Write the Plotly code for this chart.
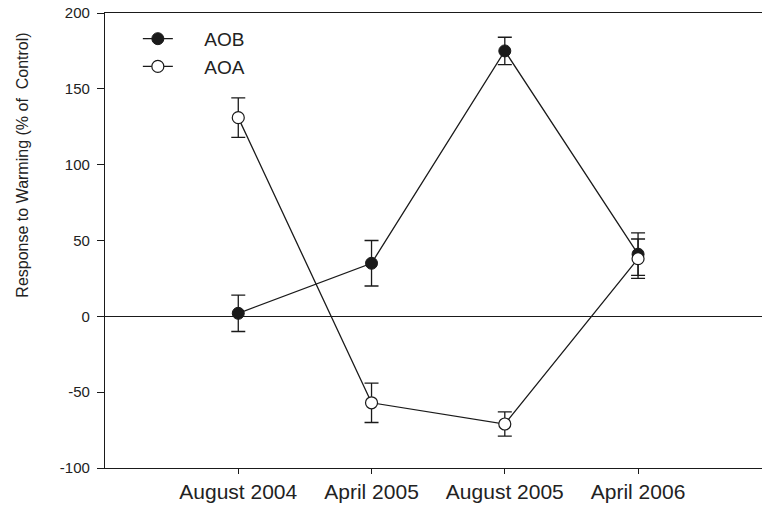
import plotly.graph_objects as go

categories = ["August 2004", "April 2005", "August 2005", "April 2006"]
aob_values = [2, 35, 175, 41]
aob_errors = [12, 15, 9, 14]
aoa_values = [131, -57, -71, 38]
aoa_errors = [13, 13, 8, 13]
y_ticks = [-100, -50, 0, 50, 100, 150, 200]
y_ticktext = ["-100", "-50", "0", "50", "100", "150", "200"]
y_title = "Response to Warming (% of  Control)"

FONT = "Liberation Sans, Arial, sans-serif"
fig = go.Figure()

fig.add_trace(go.Scatter(
    x=categories, y=aob_values, name="\u00a0\u00a0\u00a0\u00a0\u00a0AOB", mode="lines+markers",
    line=dict(color="#1a1a1a", width=1.3),
    marker=dict(symbol="circle", size=12, color="#1a1a1a", line=dict(color="#1a1a1a", width=1)),
    error_y=dict(type="data", array=aob_errors, visible=True, color="#1a1a1a", thickness=1.3, width=7),
))
fig.add_trace(go.Scatter(
    x=categories, y=aoa_values, name="\u00a0\u00a0\u00a0\u00a0\u00a0AOA", mode="lines+markers",
    line=dict(color="#1a1a1a", width=1.3),
    marker=dict(symbol="circle", size=12, color="white", line=dict(color="#1a1a1a", width=1.2)),
    error_y=dict(type="data", array=aoa_errors, visible=True, color="#1a1a1a", thickness=1.3, width=7),
))

fig.add_annotation(
    text=y_title, textangle=-90, xref="paper", yref="paper",
    x=-0.126, y=0.665, xanchor="center", yanchor="middle", showarrow=False,
    font=dict(size=16, family=FONT, color="#222222"),
)

fig.update_layout(
    width=762, height=517,
    margin=dict(l=105, r=0, t=13, b=49),
    paper_bgcolor="white", plot_bgcolor="white",
    font=dict(family=FONT, color="#222222"),
    showlegend=True,
    legend=dict(x=0.05, y=0.985, xanchor="left", yanchor="top",
                bgcolor="rgba(0,0,0,0)", font=dict(size=19, family=FONT, color="#222222"),
                tracegroupgap=0),
    xaxis=dict(
        type="category", range=[-1, 3.93],
        showline=True, linecolor="#1a1a1a", linewidth=1.3, mirror=True,
        ticks="outside", ticklen=5, tickcolor="#1a1a1a", tickwidth=1.3,
        showgrid=False, zeroline=False,
        tickfont=dict(size=21, family=FONT, color="#222222"),
    ),
    yaxis=dict(
        range=[-100, 200], tickvals=y_ticks, ticktext=y_ticktext,
        showline=True, linecolor="#1a1a1a", linewidth=1.3,
        ticks="outside", ticklen=7, tickcolor="#1a1a1a", tickwidth=1.3,
        showgrid=False, zeroline=True, zerolinecolor="#1a1a1a", zerolinewidth=1.3,
        tickfont=dict(size=15, family=FONT, color="#222222"),
        ticklabelstandoff=4,
    ),
)

fig.write_html("out.html")
